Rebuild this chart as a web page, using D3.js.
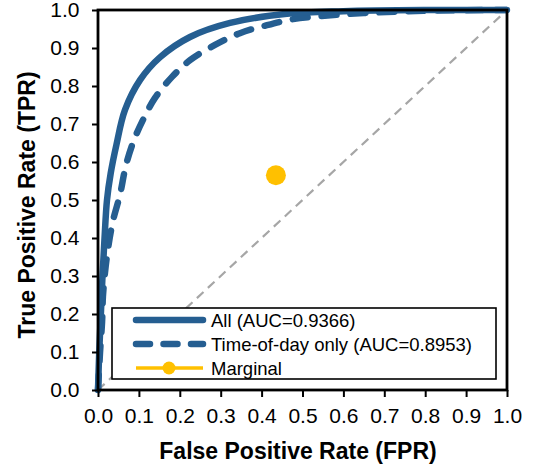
<!DOCTYPE html>
<html>
<head>
<meta charset="utf-8">
<script src="https://cdn.jsdelivr.net/npm/d3@7"></script>
<style>
  body { margin: 0; background: #fff; }
  text { font-family: "Liberation Sans", Arial, sans-serif; }
</style>
</head>
<body>
<div id="roc"></div>
<script>
// ROC curve points [FPR, TPR]
var allFpr = [0, 0.003, 0.007, 0.011, 0.016, 0.022, 0.031, 0.045, 0.066, 0.103, 0.152, 0.225, 0.323, 0.462, 0.6, 0.8, 1]
var allTpr = [0, 0.1, 0.2, 0.3, 0.4, 0.5, 0.57, 0.645, 0.737, 0.816, 0.876, 0.929, 0.966, 0.99, 0.997, 1, 1]
var todFpr = [0, 0.005, 0.01, 0.012, 0.017, 0.025, 0.037, 0.054, 0.068, 0.087, 0.11, 0.139, 0.181, 0.225, 0.286, 0.347, 0.413, 0.477, 0.543, 0.65, 0.8, 1]
var todTpr = [0, 0.1, 0.18, 0.245, 0.308, 0.376, 0.447, 0.515, 0.59, 0.655, 0.711, 0.768, 0.824, 0.868, 0.908, 0.939, 0.96, 0.976, 0.984, 0.992, 0.998, 1]
var marginal = [0.435, 0.565]
var legendLabels = ["All (AUC=0.9366)", "Time-of-day only (AUC=0.8953)", "Marginal"]
var ticks = [0, 0.1, 0.2, 0.3, 0.4, 0.5, 0.6, 0.7, 0.8, 0.9, 1.0]

var width = 536, height = 466
var margin = { top: 10, right: 29, bottom: 76, left: 98 }
var w = width - margin.left - margin.right
var h = height - margin.top - margin.bottom

var blue = "#255e91", yellow = "#ffc000"

const svg = d3.select("#roc")
    .append("svg")
    .attr("width", width)
    .attr("height", height);

const g = svg.append("g")
    .attr("transform", "translate(" + margin.left + "," + margin.top + ")");

var x = d3.scaleLinear().domain([0, 1]).range([0, w])
var y = d3.scaleLinear().domain([0, 1]).range([h, 0])

// chance diagonal
g.append("line")
    .attr("x1", x(0)).attr("y1", y(0))
    .attr("x2", x(1)).attr("y2", y(1))
    .attr("stroke", "#a6a6a6")
    .attr("stroke-width", 2.2)
    .attr("stroke-dasharray", "9,6")

var line = d3.line()
    .x(d => x(d[0]))
    .y(d => y(d[1]))
    .curve(d3.curveCatmullRom.alpha(0.5))

g.append("path")
    .datum(todFpr.map((f, i) => [f, todTpr[i]]))
    .attr("fill", "none")
    .attr("stroke", blue)
    .attr("stroke-width", 6.5)
    .attr("stroke-linecap", "round")
    .attr("stroke-dasharray", "15,14")
    .attr("d", line)

g.append("path")
    .datum(allFpr.map((f, i) => [f, allTpr[i]]))
    .attr("fill", "none")
    .attr("stroke", blue)
    .attr("stroke-width", 6.5)
    .attr("d", line)

g.append("circle")
    .attr("cx", x(marginal[0]))
    .attr("cy", y(marginal[1]))
    .attr("r", 10)
    .attr("fill", yellow)

// axes
var xAxis = g.append("g")
    .attr("transform", "translate(0," + h + ")")
    .call(d3.axisBottom(x).tickValues(ticks).tickFormat(d3.format(".1f")).tickSize(7).tickPadding(11))
var yAxis = g.append("g")
    .call(d3.axisLeft(y).tickValues(ticks).tickFormat(d3.format(".1f")).tickSize(6).tickPadding(12.5))

;[xAxis, yAxis].forEach(a => {
    a.attr("font-size", 21).attr("font-family", "'Liberation Sans', Arial, sans-serif")
    a.select(".domain").remove()
    a.selectAll(".tick line").attr("stroke", "#000").attr("stroke-width", 2)
    a.selectAll(".tick text")
        .attr("font-size", 21)
        .style("font-size", "21px")
        .attr("fill", "#000")
})

// frame
g.append("rect")
    .attr("width", w)
    .attr("height", h)
    .attr("fill", "none")
    .attr("stroke", "#000")
    .attr("stroke-width", 2.8)

// legend
var lg = g.append("g").attr("transform", "translate(" + (112 - margin.left) + "," + (308 - margin.top) + ")")
lg.append("rect")
    .attr("width", 384)
    .attr("height", 71)
    .attr("fill", "#fff")
    .attr("stroke", "#000")
    .attr("stroke-width", 1.6)

var rowY = [12, 36, 60]
legendLabels.forEach((d, i) => {
    var yy = rowY[i]
    var ln = lg.append("line")
        .attr("x1", 24).attr("x2", 91)
        .attr("y1", yy).attr("y2", yy)
        .attr("stroke", i < 2 ? blue : yellow)
        .attr("stroke-width", i < 2 ? 6.5 : 3.5)
        .attr("stroke-linecap", i < 2 ? "round" : "butt")
    if (i == 1) ln.attr("stroke-dasharray", "14,13.5")
    if (i == 2) {
        lg.append("circle").attr("cx", 57).attr("cy", yy).attr("r", 6.5).attr("fill", yellow)
    }
    lg.append("text")
        .attr("x", 99)
        .attr("y", yy + 6.5)
        .text(d)
        .style("font-size", "18.5px")
})

// axis titles
svg.append("text")
    .attr("x", 298)
    .attr("y", 459)
    .attr("text-anchor", "middle")
    .style("font-size", "23px")
    .style("font-weight", "bold")
    .text("False Positive Rate (FPR)")

svg.append("text")
    .attr("transform", "translate(35,205) rotate(-90)")
    .attr("text-anchor", "middle")
    .style("font-size", "23px")
    .style("font-weight", "bold")
    .text("True Positive Rate (TPR)")
</script>
</body>
</html>
